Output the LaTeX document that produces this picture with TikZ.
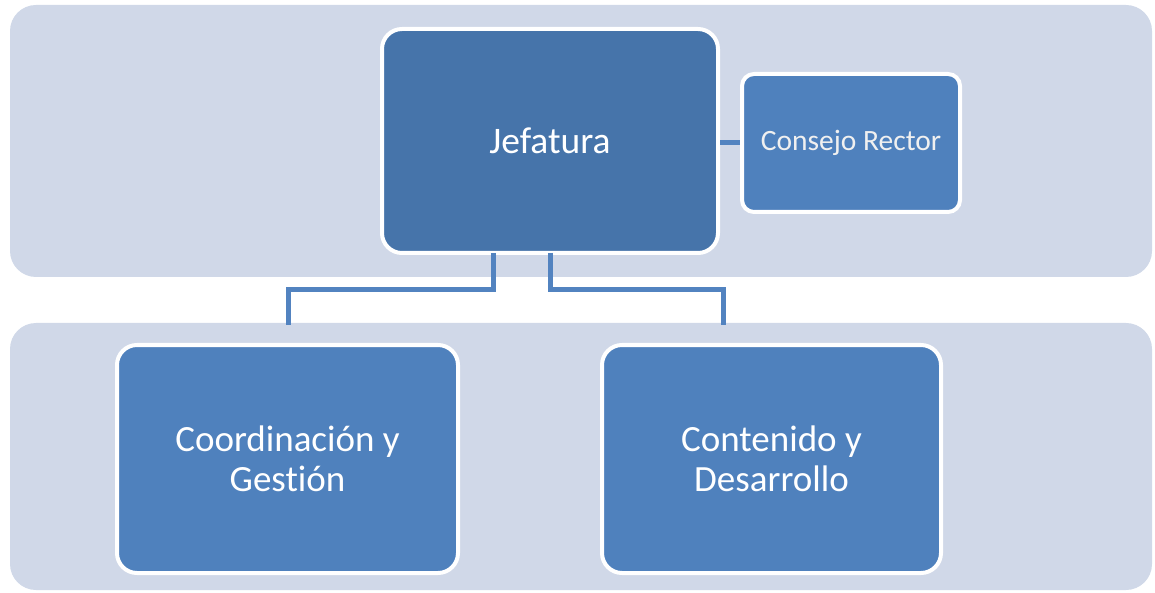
\documentclass[tikz,border=0pt]{standalone}
\usepackage{fontspec}
\setmainfont[Ligatures=NoCommon]{Carlito}
\usetikzlibrary{calc}
\definecolor{bandcol}{HTML}{D0D8E8}
\definecolor{darkbox}{HTML}{4674AA}
\definecolor{midbox}{HTML}{4F81BD}
\definecolor{linecol}{HTML}{5283C0}
\tikzset{
  band/.style={fill=bandcol, draw=none, rounded corners=26pt},
  orgbox/.style={rectangle, draw=white, line width=4pt, text=white, align=center, inner sep=0pt},
  link/.style={draw=linecol, line width=5pt, line cap=butt, line join=miter}
}
\begin{document}
\begin{tikzpicture}[x=1pt,y=1pt]
\useasboundingbox (0,0) rectangle (1155,592);
% bands
\path[band] (10,315) rectangle (1152,587);
\path[band] (10,2) rectangle (1152,269);
% nodes
\node[orgbox, fill=darkbox, rounded corners=20pt, minimum width=336pt, minimum height=224pt, font=\fontsize{37.5}{40}\selectfont] (jef) at (550,451) {Jefatura};
\node[orgbox, fill=midbox, rounded corners=12pt, minimum width=218pt, minimum height=138pt, font=\fontsize{29.5}{32}\selectfont, text=white!94!black] (con) at (851,449) {Consejo Rector};
\node[orgbox, fill=midbox, rounded corners=20pt, minimum width=341pt, minimum height=228pt, font=\fontsize{37}{40}\selectfont] (coo) at (287.5,133) {Coordinación y\\Gestión};
\node[orgbox, fill=midbox, rounded corners=20pt, minimum width=339pt, minimum height=228pt, font=\fontsize{37}{40}\selectfont] (cnt) at (771.5,133) {Contenido y\\Desarrollo};
% free ends of connectors
\coordinate (endl) at (288,267);
\coordinate (endr) at (723,267);
% connectors
\draw[link] (jef.east |- con.west) -- (con.west);
\draw[link] ($(jef.south)+(-57,2)$) |- (endl |- 0,302) -- (endl);
\draw[link] ($(jef.south)+(0,2)$) |- (endr |- 0,302) -- (endr);
\end{tikzpicture}
\end{document}
